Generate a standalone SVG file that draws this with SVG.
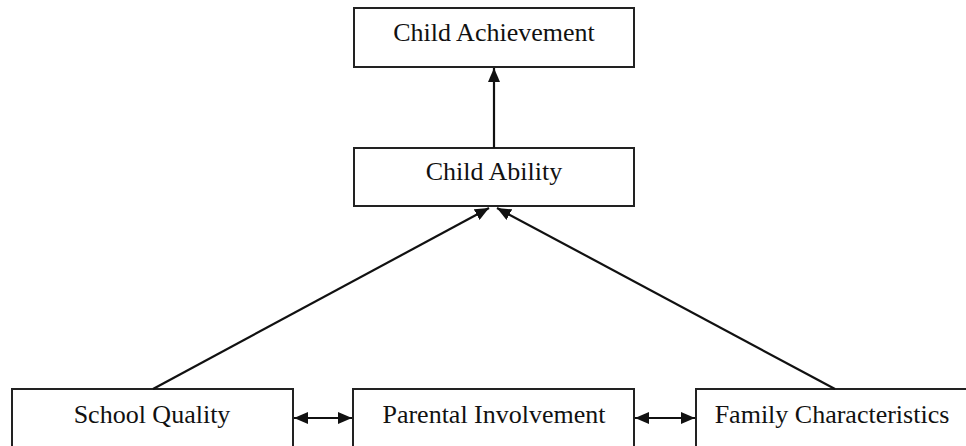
<svg xmlns="http://www.w3.org/2000/svg" width="966" height="446" viewBox="0 0 966 446">
<style>
.box{fill:#fff;stroke:#222;stroke-width:2}
.lbl{font-family:"Liberation Serif","Times New Roman",serif;font-size:26px;fill:#111;text-anchor:middle}
.con{stroke:#111;stroke-width:2.2;fill:none}
</style>
<defs>
<marker id="ah" viewBox="0 0 14 12" refX="14" refY="6" markerWidth="14" markerHeight="12" markerUnits="userSpaceOnUse" orient="auto-start-reverse">
<path d="M0,0 L14,6 L0,12 z" fill="#111"/>
</marker>
</defs>
<rect width="966" height="446" fill="#fff"/>
<g id="child-achievement"><rect class="box" x="354" y="8" width="280" height="59"/><text class="lbl" x="494" y="41">Child Achievement</text></g>
<g id="child-ability"><rect class="box" x="354" y="148" width="280" height="58"/><text class="lbl" x="494" y="180">Child Ability</text></g>
<g id="school-quality"><rect class="box" x="12" y="389" width="281" height="70"/><text class="lbl" x="152" y="423">School Quality</text></g>
<g id="parental-involvement"><rect class="box" x="353" y="389" width="281" height="70"/><text class="lbl" x="494" y="423">Parental Involvement</text></g>
<g id="family-characteristics"><rect class="box" x="696" y="389" width="290" height="70"/><text class="lbl" x="832" y="423">Family Characteristics</text></g>
<g id="connectors">
<line class="con" x1="494" y1="148" x2="494" y2="68" marker-end="url(#ah)"/>
<line class="con" x1="153" y1="389" x2="489" y2="208" marker-end="url(#ah)"/>
<line class="con" x1="835" y1="389" x2="497" y2="208" marker-end="url(#ah)"/>
<line class="con" x1="294" y1="418" x2="352" y2="418" marker-start="url(#ah)" marker-end="url(#ah)"/>
<line class="con" x1="635" y1="418" x2="695" y2="418" marker-start="url(#ah)" marker-end="url(#ah)"/>
</g>
</svg>
